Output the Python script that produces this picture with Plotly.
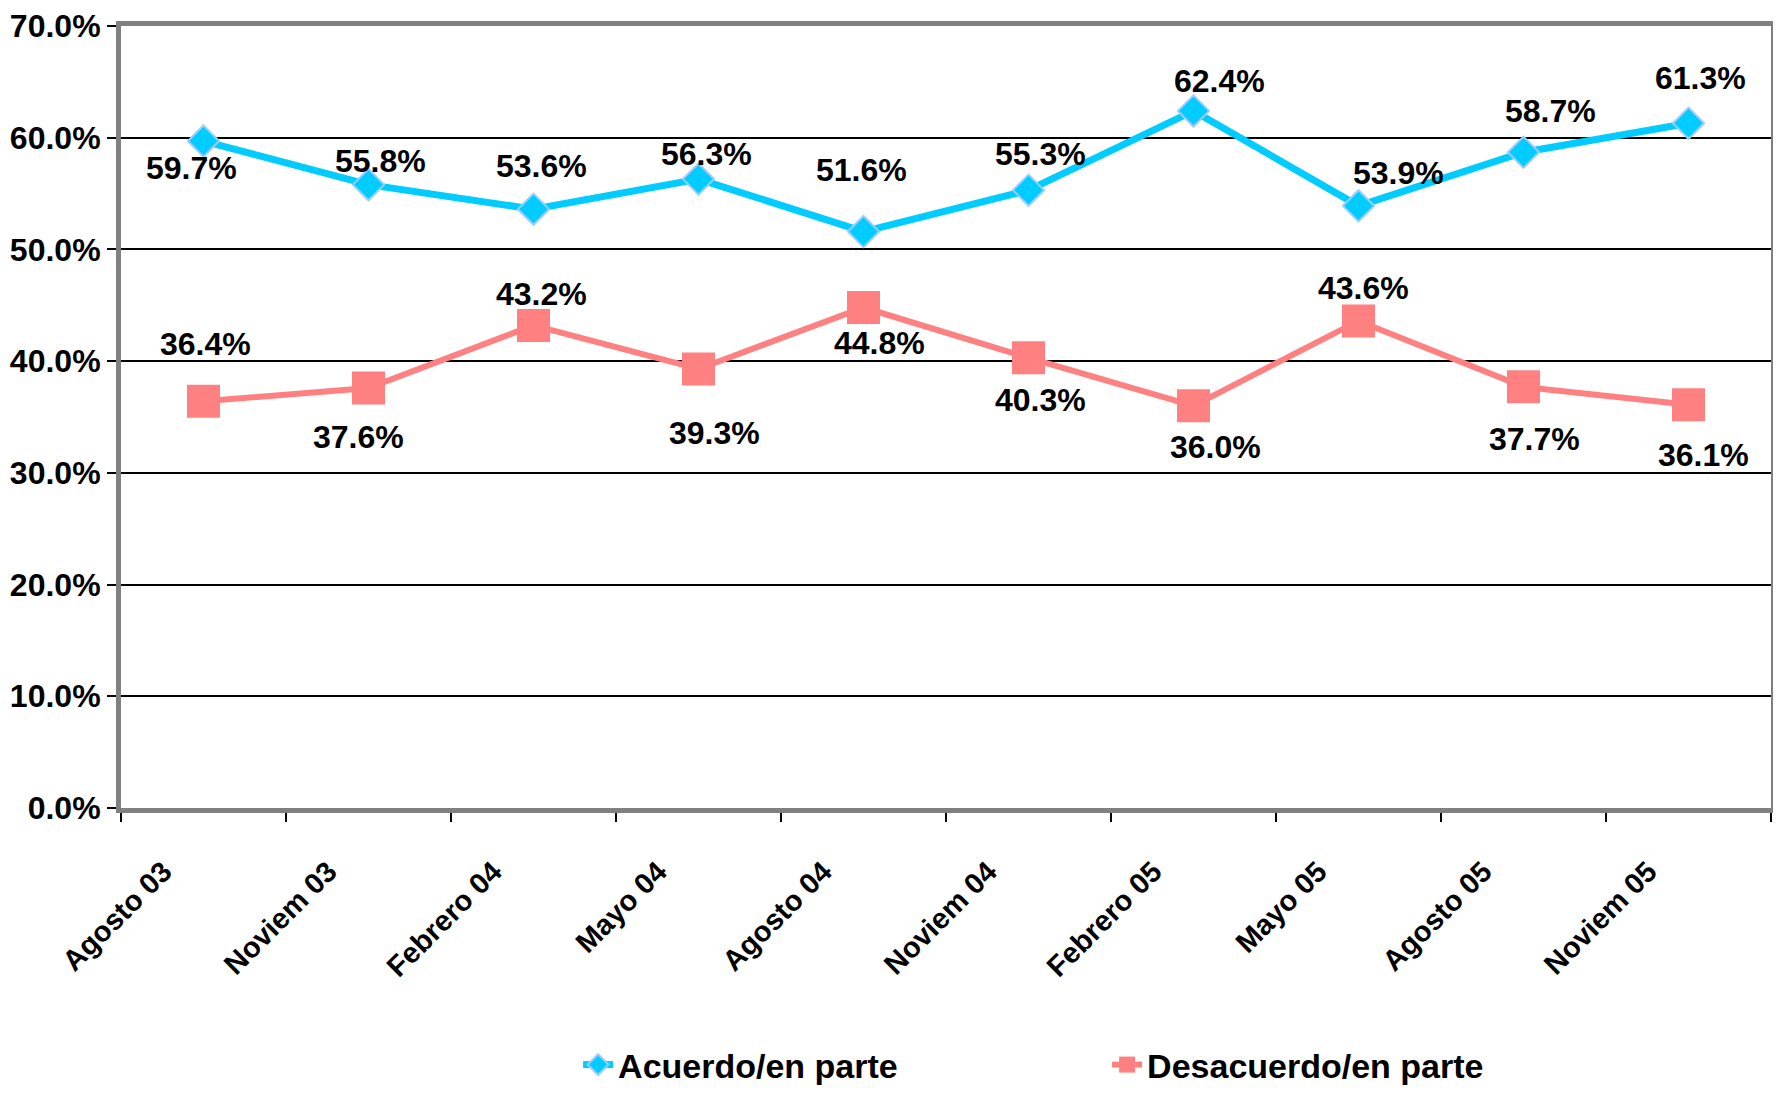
import plotly.graph_objects as go

categories = ["Agosto 03", "Noviem 03", "Febrero 04", "Mayo 04", "Agosto 04",
              "Noviem 04", "Febrero 05", "Mayo 05", "Agosto 05", "Noviem 05"]
acuerdo = [0.597, 0.558, 0.536, 0.563, 0.516, 0.553, 0.624, 0.539, 0.587, 0.613]
desacuerdo = [0.364, 0.376, 0.432, 0.393, 0.448, 0.403, 0.360, 0.436, 0.377, 0.361]
y_ticks = [0.0, 0.1, 0.2, 0.3, 0.4, 0.5, 0.6, 0.7]

# label offsets (px) relative to each point
acu_off = [(-12, 27), (12, -24), (8, -43), (8, -25), (-2, -62), (12, -36),
           (26, -30), (40, -33), (27, -41), (12, -45)]
des_off = [(2, -57), (-10, 49), (8, -31), (16, 64), (16, 35), (12, 42),
           (22, 41), (5, -33), (11, 52), (15, 50)]

xs = list(range(len(categories)))
BOLD = "Liberation Sans"

fig = go.Figure()
fig.add_trace(go.Scatter(
    x=xs, y=acuerdo, name="Acuerdo/en parte", mode="lines+markers",
    line=dict(color="#00CCFF", width=7),
    marker=dict(symbol="diamond", size=24, color="#00CCFF",
                line=dict(color="#99CCFF", width=2)),
))
fig.add_trace(go.Scatter(
    x=xs, y=desacuerdo, name="Desacuerdo/en parte", mode="lines+markers",
    line=dict(color="#FF8080", width=6),
    marker=dict(symbol="square", size=33, color="#FF8080", line=dict(width=0)),
))

annotations = []
for vals, offs in ((acuerdo, acu_off), (desacuerdo, des_off)):
    for x, v, (dx, dy) in zip(xs, vals, offs):
        annotations.append(dict(
            x=x, y=v, xref="x", yref="y", text=f"{v*100:.1f}%",
            showarrow=False, xshift=dx, yshift=-dy,
            font=dict(family=BOLD, size=32, color="black", weight="bold"),
        ))

fig.update_layout(
    width=1765, height=1078,
    margin=dict(l=113, r=2, t=18, b=278, autoexpand=False),
    paper_bgcolor="white", plot_bgcolor="white",
    showlegend=True,
    legend=dict(orientation="h", xref="container", yref="container",
                x=0.323, xanchor="left", y=0.0195, yanchor="middle",
                font=dict(family=BOLD, size=34, color="black", weight="bold"),
                entrywidth=484, bgcolor="rgba(0,0,0,0)"),
    annotations=annotations,
)
fig.update_xaxes(
    range=[-0.5, len(categories) - 0.5], automargin=False,
    tickvals=[x - 0.243 for x in xs], ticktext=categories, tickangle=-45,
    ticks="outside", ticklen=30, tickcolor="rgba(0,0,0,0)",
    tickfont=dict(family=BOLD, size=29, color="black", weight="bold"),
    showgrid=False, zeroline=False, ticklabeloverflow="allow",
    showline=True, linecolor="#808080", linewidth=5, mirror=True,
    minor=dict(tickvals=[x - 0.5 for x in xs] + [len(categories) - 0.5],
               ticks="outside", ticklen=9, tickcolor="black", tickwidth=2, showgrid=False),
)
fig.update_yaxes(
    range=[0, 0.7], tickvals=y_ticks, tickformat=".1%", automargin=False,
    ticks="outside", ticklen=9, tickcolor="black", tickwidth=2,
    tickfont=dict(family=BOLD, size=32, color="black", weight="bold"),
    showgrid=True, gridcolor="black", gridwidth=2, zeroline=False,
    ticklabeloverflow="allow",
    showline=True, linecolor="#808080", linewidth=5, mirror=True,
)

fig.write_html("out.html")
